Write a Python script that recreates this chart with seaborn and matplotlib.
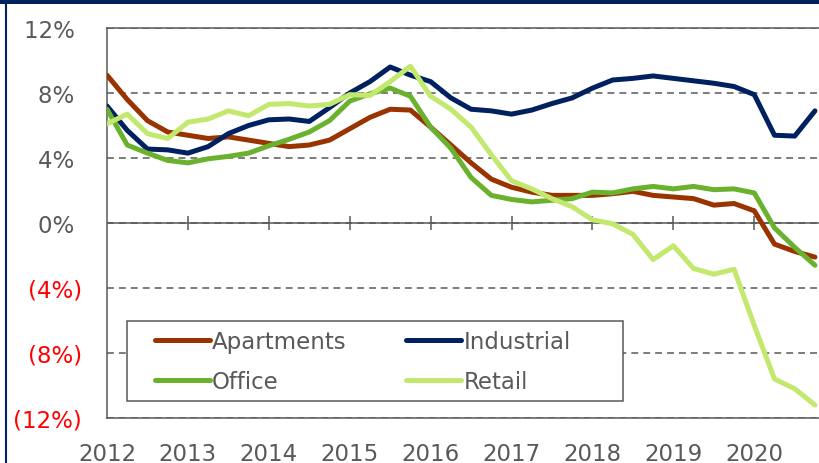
import numpy as np
import pandas as pd
import matplotlib
matplotlib.use("Agg")
import matplotlib.pyplot as plt
import seaborn as sns
from matplotlib.patches import Rectangle
from matplotlib.lines import Line2D

# quarterly data, 2012Q1 .. 2020Q4 (values in %)
quarters = np.arange(2012, 2021, 0.25)
years = list(range(2012, 2021))
sectors = ["Apartments", "Industrial", "Office", "Retail"]

apartments = [9.1, 7.6, 6.3, 5.6, 5.4, 5.2, 5.3, 5.1, 4.9, 4.7,
              4.8, 5.1, 5.8, 6.5, 7.0, 6.95, 5.9, 4.8, 3.7, 2.7,
              2.2, 1.9, 1.7, 1.7, 1.7, 1.8, 1.95, 1.7, 1.6, 1.5,
              1.1, 1.2, 0.75, -1.3, -1.75, -2.1]
industrial = [7.2, 5.7, 4.55, 4.5, 4.3, 4.7, 5.5, 6.0, 6.35, 6.4,
              6.25, 7.1, 8.0, 8.7, 9.6, 9.1, 8.7, 7.7, 7.0, 6.9,
              6.7, 6.95, 7.35, 7.7, 8.3, 8.8, 8.9, 9.05, 8.9, 8.75,
              8.6, 8.4, 7.9, 5.4, 5.35, 6.9]
office = [7.0, 4.8, 4.3, 3.85, 3.7, 3.95, 4.1, 4.3, 4.75, 5.15,
          5.6, 6.3, 7.5, 7.95, 8.3, 7.8, 5.9, 4.6, 2.8, 1.7,
          1.45, 1.3, 1.4, 1.5, 1.9, 1.85, 2.1, 2.25, 2.1, 2.25,
          2.05, 2.1, 1.85, -0.3, -1.5, -2.6]
retail = [6.1, 6.7, 5.5, 5.2, 6.2, 6.4, 6.9, 6.6, 7.3, 7.35,
          7.2, 7.3, 7.9, 7.85, 8.7, 9.65, 7.8, 7.0, 5.9, 4.2,
          2.6, 2.1, 1.5, 1.0, 0.2, -0.05, -0.7, -2.25, -1.4, -2.8,
          -3.15, -2.85, -6.3, -9.6, -10.2, -11.2]

yticks = [-12, -8, -4, 0, 4, 8, 12]

colors = {"Apartments": "#993300", "Industrial": "#002060",
          "Office": "#6AB22E", "Retail": "#C3E86E"}
gray = "#595959"
navy = "#002060"

df = pd.DataFrame({"quarter": quarters, "Apartments": apartments,
                   "Industrial": industrial, "Office": office, "Retail": retail})
df = df.melt(id_vars="quarter", var_name="sector", value_name="value")

sns.set_style("white")
plt.rcParams["font.family"] = ["DejaVu Sans"]

fig = plt.figure(figsize=(8.19, 4.64), dpi=100)
ax = fig.add_axes([107 / 819, 45 / 464, 712 / 819, 390 / 464])

sns.lineplot(data=df, x="quarter", y="value", hue="sector", hue_order=sectors,
             palette=colors, linewidth=3.6, ax=ax, legend=False, zorder=3)
for ln in ax.lines:
    ln.set_solid_joinstyle("round")

ax.set_xlim(2012, 2020.8)
ax.set_ylim(-12, 12)

# grid, zero axis and year tick marks
ax.grid(axis="y", color=gray, linestyle=(0, (4.5, 3.3)), linewidth=1.1, zorder=1)
ax.grid(axis="x", visible=False)
ax.axhline(0, color=gray, linewidth=1.1, zorder=1.5)
ax.vlines(years[1:], -0.45, 0.45, color=gray, linewidth=1.1, zorder=1.5)

for side in ["left", "top", "bottom"]:
    ax.spines[side].set_color(gray)
    ax.spines[side].set_linewidth(1.1)
ax.spines["right"].set_visible(False)

ax.set_xticks(years)
ax.set_xticklabels([str(y) for y in years])
ax.set_yticks(yticks)
ax.set_yticklabels([f"({abs(v)}%)" if v < 0 else f"{v}%\u00a0" for v in yticks])
ax.tick_params(axis="x", length=0, pad=17, labelsize=16.5, labelcolor=gray)
ax.tick_params(axis="y", length=0, pad=18, labelsize=16.5, labelcolor=gray)
for lbl, v in zip(ax.get_yticklabels(), yticks):
    lbl.set_color("#FF0000" if v < 0 else gray)
ax.set_xlabel("")
ax.set_ylabel("")

# legend with its own box, filled row by row
ax.add_patch(Rectangle((0.028, 0.044), 0.697, 0.205, transform=ax.transAxes,
                       facecolor="white", edgecolor=gray, linewidth=1.1, zorder=4))
leg_order = ["Apartments", "Office", "Industrial", "Retail"]
handles = [Line2D([0], [0], color=colors[s], linewidth=3.6, solid_capstyle="round")
           for s in leg_order]
leg = ax.legend(handles, leg_order, ncol=2, loc="upper left", bbox_to_anchor=(0.067, 0.225),
                frameon=False, handlelength=2.4, handletextpad=0.1, columnspacing=2.6,
                labelspacing=0.72, borderpad=0, borderaxespad=0, fontsize=16.5,
                labelcolor=gray)
leg.set_zorder(5)

# outer frame
fig.add_artist(Rectangle((0, 1 - 5 / 464), 1, 5 / 464, transform=fig.transFigure,
                         color=navy, linewidth=0))
fig.add_artist(Line2D([5.5 / 819] * 2, [0, 1], transform=fig.transFigure,
                      color=navy, linewidth=1.5))

fig.savefig("out.png", dpi=100)
